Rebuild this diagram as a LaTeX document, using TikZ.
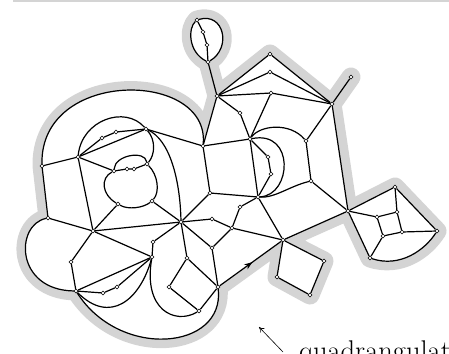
\documentclass[tikz,border=0pt]{standalone}
\usetikzlibrary{decorations.markings,arrows.meta}
\pgfdeclarelayer{bg}
\pgfsetlayers{bg,main}
\definecolor{halo}{gray}{0.83}
\begin{document}
\begin{tikzpicture}[x=1pt,y=-1pt,
  v/.style={circle,draw,fill=white,inner sep=0pt,minimum size=3.9pt,line width=0.5pt},
  e/.style={line width=1.2pt},
  toprule/.style={draw=halo,line width=2pt},
  pointer/.style={-{To[length=5pt,width=6pt]},line width=0.6pt}]
\useasboundingbox (0,0) rectangle (449,353);
\coordinate (ruleL) at (13,0.8);
\coordinate (ruleR) at (449,0.8);
\draw[toprule] (ruleL) -- (ruleR);
% vertices
\node[v] (A) at (197,20) {};
\node[v] (B) at (203,32) {};
\node[v] (C) at (207,45) {};
\node[v] (D) at (208,62) {};
\node[v] (E) at (217,96) {};
\node[v] (F) at (270,54) {};
\node[v] (G) at (270,72) {};
\node[v] (H) at (271,93) {};
\node[v] (I) at (332,104) {};
\node[v] (J) at (351,77) {};
\node[v] (K) at (240,113) {};
\node[v] (L) at (250,139) {};
\node[v] (M) at (306,141) {};
\node[v] (N) at (268,157) {};
\node[v] (O) at (271,174) {};
\node[v] (P) at (311,181) {};
\node[v] (Q) at (203,146) {};
\node[v] (R) at (146,129) {};
\node[v] (S) at (116,132) {};
\node[v] (T) at (102,138) {};
\node[v] (U) at (78,157) {};
\node[v] (V) at (42,166) {};
\node[v] (W) at (147,164) {};
\node[v] (Xa) at (127,169) {};
\node[v] (Xb) at (134,169) {};
\node[v] (Y) at (114,171) {};
\node[v] (Z) at (118,204) {};
\node[v] (AA) at (152,201) {};
\node[v] (AB) at (48,218) {};
\node[v] (AC) at (93,231) {};
\node[v] (AD) at (181,222) {};
\node[v] (AE) at (212,219) {};
\node[v] (AF) at (210,193) {};
\node[v] (AG) at (258,197) {};
\node[v] (AH) at (240,207) {};
\node[v] (AI) at (232,228) {};
\node[v] (AJ) at (153,242) {};
\node[v] (AK) at (152,257) {};
\node[v] (AL) at (187,258) {};
\node[v] (AM) at (212,248) {};
\node[v] (AN) at (71,262) {};
\node[v] (AO) at (76,291) {};
\node[v] (AP) at (103,293) {};
\node[v] (AQ) at (117,287) {};
\node[v] (AR) at (169,287) {};
\node[v] (AS) at (199,311) {};
\node[v] (AT) at (218,287) {};
\node[v] (AU) at (283,240) {};
\node[v] (AV) at (348,211) {};
\node[v] (AW) at (395,187) {};
\node[v] (AX) at (377,217) {};
\node[v] (AY) at (397,212) {};
\node[v] (AZ) at (402,232) {};
\node[v] (BA) at (383,236) {};
\node[v] (BB) at (437,231) {};
\node[v] (BC) at (370,258) {};
\node[v] (BD) at (324,261) {};
\node[v] (BE) at (277,277) {};
\node[v] (BF) at (310,295) {};
% halo
\begin{pgfonlayer}{bg}
\path[fill=white, preaction={draw=halo,line width=19pt,line join=round}]
 (E.center) -- (D.center) .. controls (188,52) and (188,28) .. (A.center)
 .. controls (224,12) and (232,48) .. (D.center) -- (E.center) -- (F.center) -- (I.center)
 -- (J.center) -- (I.center) -- (AV.center) -- (AW.center) -- (BB.center)
 .. controls (425,250) and (400,268) .. (BC.center) -- (AV.center) -- (AU.center)
 -- (BD.center) -- (BF.center) -- (BE.center) -- (AU.center) -- (AT.center)
 .. controls (225,350) and (120,360) .. (AO.center)
 .. controls (15,290) and (15,225) .. (AB.center) -- (V.center)
 .. controls (40,68) and (210,70) .. (Q.center) -- cycle;
\end{pgfonlayer}
% top loop
\draw[e] (A) .. controls (188,28) and (188,52) .. (D);
\draw[e] (A) .. controls (224,12) and (232,48) .. (D);
\draw[e] (A) -- (B) -- (C) -- (D) -- (E);
% top right
\draw[e] (E) -- (F) -- (I);
\draw[e] (E) -- (G) -- (I);
\draw[e] (E) -- (H) -- (I);
\draw[e] (I) -- (J);
\draw[e] (E) -- (K) -- (L);
\draw[e] (E) -- (Q);
\draw[e] (H) -- (L);
\draw[e] (Q) -- (L);
\draw[e] (I) -- (M);
\draw[e] (I) -- (AV);
\draw[e] (L) .. controls (260,125) and (290,122) .. (M);
\draw[e] (M) -- (P) -- (AV);
\draw[e] (L) -- (N) -- (O) -- (AG);
\draw[e] (L) -- (AG);
\draw[e] (L) .. controls (295,130) and (292,195) .. (AG);
\draw[e] (P) .. controls (290,186) and (275,198) .. (AG);
% left
\draw[e] (V) .. controls (40,68) and (210,70) .. (Q);
\draw[e] (Q) -- (R);
\draw[e] (Q) -- (AF);
\draw[e] (V) -- (U);
\draw[e] (V) -- (AB);
\draw[e] (U) .. controls (82,120) and (125,105) .. (R);
\draw[e] (U) -- (T) -- (S) -- (R);
\draw[e] (U) -- (R);
\draw[e] (U) -- (Y);
\draw[e] (U) -- (AC);
\draw[e] (R) .. controls (156,140) and (155,155) .. (W);
\draw[e] (R) .. controls (170,140) and (180,180) .. (AD);
\draw[e] (Y) .. controls (115,155) and (145,150) .. (W);
\draw[e] (Y) -- (Xa) -- (Xb) -- (W);
\draw[e] (Y) .. controls (100,178) and (102,195) .. (Z);
\draw[e] (W) .. controls (158,175) and (160,192) .. (AA);
\draw[e] (Z) .. controls (128,210) and (143,208) .. (AA);
\draw[e] (Z) -- (AC);
\draw[e] (AB) -- (AC);
\draw[e] (AB) .. controls (15,225) and (15,290) .. (AO);
\draw[e] (AC) -- (AN) -- (AO);
\draw[e] (AC) -- (AD);
\draw[e] (AC) -- (AK);
\draw[e] (AO) -- (AK);
\draw[e] (AO) -- (AP) -- (AQ) -- (AK);
\draw[e] (AO) .. controls (110,325) and (140,300) .. (AK);
\draw[e] (AK) .. controls (143,310) and (175,325) .. (AS);
\draw[e] (AO) .. controls (120,360) and (225,350) .. (AT);
% center
\draw[e] (AA) -- (AD);
\draw[e] (AF) -- (AD);
\draw[e] (AE) -- (AD);
\draw[e] (AJ) -- (AD);
\draw[e] (AJ) -- (AK);
\draw[e] (AL) -- (AD);
\draw[e] (AM) -- (AD);
\draw[e] (AF) -- (AG);
\draw[e] (AG) -- (AH) -- (AI);
\draw[e] (AE) -- (AI);
\draw[e] (AM) -- (AI);
\draw[e] (AI) -- (AU);
\draw[e] (AG) -- (AU);
\draw[e] (AL) -- (AR) -- (AS) -- (AT);
\draw[e] (AL) -- (AT);
\draw[e] (AM) -- (AT);
\draw[e, postaction={decorate}, decoration={markings,
  mark=at position 0.53 with {\arrow{Stealth[length=8pt,width=6pt]}}}] (AT) -- (AU);
% right
\draw[e] (AU) -- (BE) -- (BF) -- (BD) -- (AU);
\draw[e] (AU) -- (AV);
\draw[e] (AV) -- (AW);
\draw[e] (AV) -- (AX);
\draw[e] (AV) -- (BC);
\draw[e] (AW) -- (AY);
\draw[e] (AW) -- (BB);
\draw[e] (AX) -- (AY) -- (AZ) -- (BA) -- (AX);
\draw[e] (AZ) -- (BB);
\draw[e] (BA) -- (BC);
\draw[e] (BC) .. controls (400,268) and (425,250) .. (BB);
% label
\node[anchor=base west, inner sep=0pt, font=\fontsize{28.5}{34}\selectfont] (lab) at (299,360) {quadrangulation};
\coordinate (ptail) at (283,352);
\coordinate (phead) at (259,327);
\draw[pointer] (ptail) -- (phead);
\end{tikzpicture}
\end{document}
